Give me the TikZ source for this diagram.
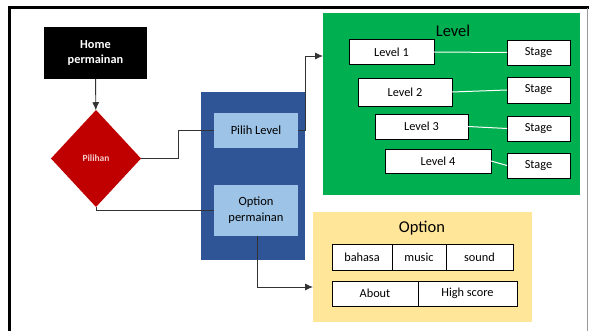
\documentclass[tikz,border=0pt]{standalone}
\usepackage{fontspec}
\setmainfont{Carlito}
\usepackage{tikz}
\usetikzlibrary{positioning,shapes.geometric,arrows.meta}
\definecolor{myred}{RGB}{192,0,0}
\definecolor{mypink}{RGB}{244,204,204}
\definecolor{mybluei}{RGB}{47,85,151}
\definecolor{myblueii}{RGB}{157,195,230}
\definecolor{mygreen}{RGB}{0,176,80}
\definecolor{myyellow}{RGB}{255,230,153}
\tikzset{
  gamepic/.style={
    x=1pt,y=-1pt
    ,node distance=0pt
    ,inner sep=0pt
    ,outer sep=0pt
  }
  ,homebox/.style={fill=black,font={\bfseries\fontsize{12.3}{15}\selectfont\color{white}},align=center}
  ,choice/.style={diamond,fill=myred,font={\bfseries\fontsize{9.5}{11}\selectfont\color{mypink}}}
  ,panel/.style={fill=mybluei}
  ,menubox/.style={fill=myblueii,font={\fontsize{12.5}{16}\selectfont},align=center}
  ,zone/.style={rectangle}
  ,zonetitle/.style={font={\fontsize{16.5}{19}\selectfont}}
  ,whitebox/.style={draw=black,line width=.7pt,fill=white,font={\fontsize{12.3}{14}\selectfont}}
  ,link/.style={draw=black!80,line width=.9pt}
  ,arrlink/.style={link,-{Latex[length=8pt,width=7pt]}}
  ,stagelink/.style={draw=white,line width=1pt}
}

\begin{document}
\begin{tikzpicture}[gamepic]
    \useasboundingbox (0,0) rectangle (589,331);
    % frame
    \draw[line width=3pt] (9,340) -- (9,8) -- (592,8);
    \draw[black!40,line width=.8pt] (587,8) -- (587,340);
    % start
    \node[homebox,minimum width=103pt,minimum height=52pt] (home) at (95.5,53) {Home\\permainan};
    \node[choice,minimum width=90pt,minimum height=97pt] (pilihan) at (96,158.5) {Pilihan};
    % menu
    \node[panel,minimum width=104pt,minimum height=168pt] (menu) at (253,176) {};
    \node[menubox,minimum width=84pt,minimum height=35pt] (pilihlvl) at (256,130.5) {Pilih Level};
    \node[menubox,minimum width=84pt,minimum height=51pt] (optperm) at (256,210.5) {Option\\permainan};
    % level zone
    \node[zone,fill=mygreen,minimum width=257pt,minimum height=182pt] (lvlzone) at (451,104) {};
    \node[zonetitle] (lvltitle) at (453,31) {Level};
    \node[whitebox,minimum width=85pt,minimum height=25pt] (lvlone) at (391.5,52) {Level 1};
    \node[whitebox,minimum width=94pt,minimum height=28pt] (lvltwo) at (405,92) {Level 2};
    \node[whitebox,minimum width=93pt,minimum height=25pt] (lvlthree) at (421.5,126.5) {Level 3};
    \node[whitebox,minimum width=106pt,minimum height=24pt] (lvlfour) at (438,161) {Level 4};
    \node[whitebox,minimum width=63pt,minimum height=25pt] (stgone) at (538.5,52.5) {Stage};
    \node[whitebox,minimum width=63pt,minimum height=26pt] (stgtwo) at (538.5,90) {Stage};
    \node[whitebox,minimum width=63pt,minimum height=25pt] (stgthree) at (538.5,128.5) {Stage};
    \node[whitebox,minimum width=63pt,minimum height=25pt] (stgfour) at (538.5,165.5) {Stage};
    \draw[stagelink] (lvlone.east) -- (stgone.west);
    \draw[stagelink] (lvltwo.east) -- (stgtwo.west);
    \draw[stagelink] (lvlthree.east) -- (stgthree.west);
    \draw[stagelink] (lvlfour.east) -- (stgfour.west);
    % option zone
    \node[zone,fill=myyellow,minimum width=219pt,minimum height=110pt] (optzone) at (422.5,267) {};
    \node[zonetitle] (opttitle) at (422,228) {Option};
    \node[whitebox,minimum width=60pt,minimum height=26pt] (bahasa) at (362,257) {bahasa};
    \node[whitebox,minimum width=54pt,minimum height=26pt,right=of bahasa] (music) {music};
    \node[whitebox,minimum width=67pt,minimum height=26pt,right=of music] (sound) {sound};
    \node[whitebox,minimum width=86pt,minimum height=25pt] (about) at (375,293.5) {About};
    \node[whitebox,minimum width=99pt,minimum height=25pt,right=of about] (hiscore) {High score};
    % connectors
    \coordinate (lvlin) at (323,56);
    \coordinate (optin) at (313,287);
    \draw[arrlink] (home) -- (pilihan);
    \draw[link] (pilihan.east) -- ++(37,0) |- (pilihlvl.west);
    \draw[link] (pilihan.south) |- (optperm.west);
    \draw[arrlink] (pilihlvl.east) -- ++(7,0) |- (lvlin);
    \draw[arrlink] (optperm.south) ++(1,0) |- (optin);
\end{tikzpicture}
\end{document}
